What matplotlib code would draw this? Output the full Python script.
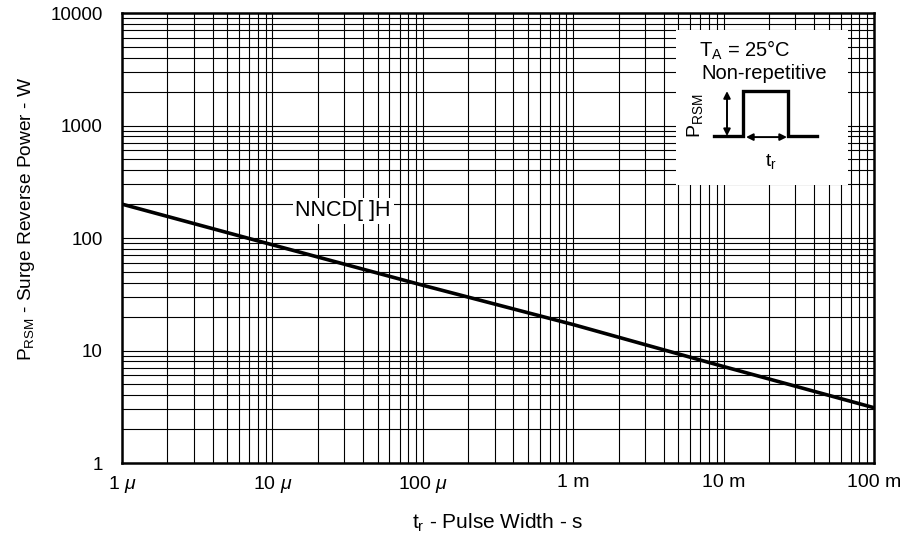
import matplotlib
matplotlib.use("Agg")
import matplotlib.pyplot as plt
from matplotlib.patches import Rectangle
import numpy as np

plt.rcParams['font.family'] = ['Liberation Sans', 'DejaVu Sans']
plt.rcParams['mathtext.fontset'] = 'custom'
plt.rcParams['mathtext.rm'] = 'Liberation Sans'
plt.rcParams['mathtext.it'] = 'Liberation Sans:italic'
plt.rcParams['mathtext.bf'] = 'Liberation Sans:bold'

# pulse width (s) vs surge reverse power (W), read at each decade
pulse_width = [1e-6, 1e-5, 1e-4, 1e-3, 1e-2, 1e-1]
surge_power = [200, 87, 38, 17, 7.2, 3.1]

x_ticks = [1e-6, 1e-5, 1e-4, 1e-3, 1e-2, 1e-1]
x_labels = [r'1 $\mu$', r'10 $\mu$', r'100 $\mu$', '1 m', '10 m', '100 m']
y_ticks = [1, 10, 100, 1000, 10000]
y_labels = ['1', '10', '100', '1000', '10000']

fig = plt.figure(figsize=(9.08, 5.38), dpi=100)
ax = fig.add_axes([0.1344, 0.1394, 0.8282, 0.8364])

ax.set_xscale('log')
ax.set_yscale('log')
ax.set_xlim(1e-6, 1e-1)
ax.set_ylim(1, 10000)

ax.plot(pulse_width, surge_power, color='black', lw=2.6, zorder=3)

ax.grid(True, which='both', color='black', lw=0.8)
ax.set_axisbelow(True)
for s in ax.spines.values():
    s.set_linewidth(1.8)

ax.set_xticks(x_ticks)
ax.set_xticklabels(x_labels, fontsize=14)
ax.set_yticks(y_ticks)
ax.set_yticklabels(y_labels, fontsize=13.5)
ax.tick_params(which='both', length=0)
ax.tick_params(axis='y', pad=14)
ax.tick_params(axis='x', pad=8)

ax.set_xlabel(r't$_\mathrm{r}$ - Pulse Width - s', fontsize=15, labelpad=12)
ax.set_ylabel(r'P$_\mathrm{RSM}$ - Surge Reverse Power - W', fontsize=13.8)
ax.yaxis.set_label_coords(-0.113, 0.542)

ax.text(2.95e-5, 174, 'NNCD[ ]H', fontsize=15.5, ha='center', va='center', zorder=4,
        bbox=dict(facecolor='white', edgecolor='none', pad=2))

# condition box with pulse sketch
ins = fig.add_axes([0.7445, 0.656, 0.1894, 0.288])
ins.set_xlim(676, 848)
ins.set_ylim(185, 30)
ins.axis('off')
ins.add_patch(Rectangle((676, 30), 172, 155, facecolor='white', edgecolor='none'))
ins.text(745, 50, r'T$_\mathrm{A}$ = 25°C', fontsize=14.5, ha='center', va='center')
ins.text(764, 73, 'Non-repetitive', fontsize=14.5, ha='center', va='center')
ins.plot([714, 743, 743, 788, 788, 817], [136, 136, 91, 91, 136, 136],
         color='black', lw=2.4, solid_joinstyle='miter')
ins.annotate('', xy=(727, 91), xytext=(727, 136),
             arrowprops=dict(arrowstyle='<|-|>', color='black', lw=1.4, mutation_scale=10,
                             shrinkA=0, shrinkB=0))
ins.annotate('', xy=(746, 137), xytext=(787, 137),
             arrowprops=dict(arrowstyle='<|-|>', color='black', lw=1.4, mutation_scale=10,
                             shrinkA=0, shrinkB=0))
ins.text(695, 116, r'P$_\mathrm{RSM}$', fontsize=14, rotation=90, ha='center', va='center')
ins.text(771, 161, r't$_\mathrm{r}$', fontsize=14, ha='center', va='center')

fig.savefig('out.png', dpi=100)
